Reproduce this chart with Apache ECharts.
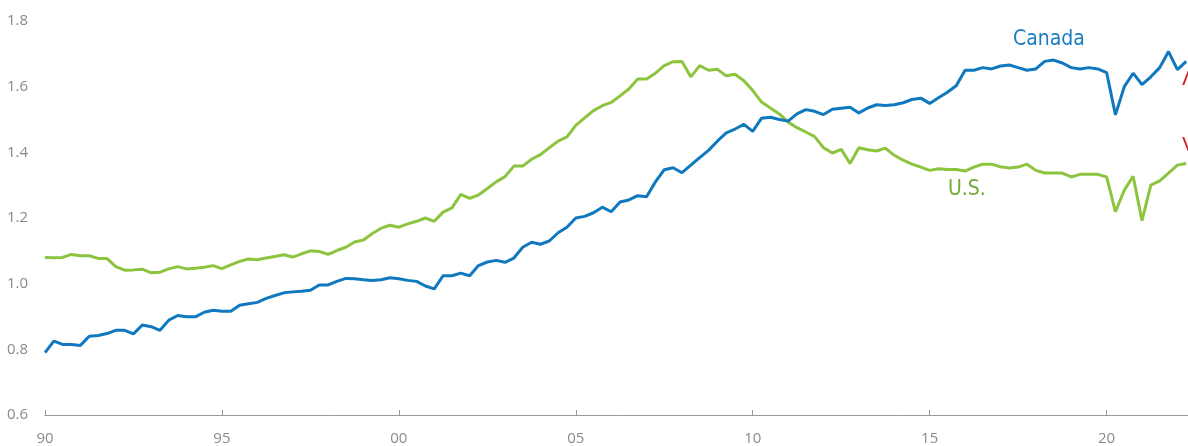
<!DOCTYPE html>
<html>
<head>
<meta charset="utf-8">
<script src="https://cdn.jsdelivr.net/npm/echarts@6/dist/echarts.min.js"></script>
<style>
  html, body { margin: 0; padding: 0; background: #fff; }
  #chart { width: 1188px; height: 446px; }
</style>
</head>
<body>
<div id="chart"></div>
<script>
// quarterly, first point = 1990 Q1
const startYear = 1990
const canada = [
  0.790, 0.825, 0.815, 0.815, 0.812, 0.840, 0.842, 0.848, 0.858, 0.858,
  0.847, 0.874, 0.869, 0.858, 0.889, 0.903, 0.899, 0.899, 0.913, 0.919,
  0.916, 0.916, 0.934, 0.939, 0.943, 0.955, 0.964, 0.972, 0.975, 0.977,
  0.980, 0.996, 0.996, 1.007, 1.016, 1.015, 1.012, 1.010, 1.012, 1.018,
  1.015, 1.010, 1.007, 0.993, 0.984, 1.024, 1.024, 1.032, 1.024, 1.055,
  1.066, 1.071, 1.065, 1.078, 1.111, 1.126, 1.120, 1.130, 1.155, 1.172,
  1.200, 1.205, 1.216, 1.233, 1.219, 1.249, 1.255, 1.268, 1.265, 1.310,
  1.347, 1.353, 1.338, 1.361, 1.384, 1.406, 1.434, 1.459, 1.471, 1.485,
  1.464, 1.504, 1.507, 1.500, 1.495, 1.517, 1.530, 1.525, 1.515, 1.531,
  1.534, 1.537, 1.520, 1.535, 1.545, 1.543, 1.545, 1.551, 1.561, 1.565,
  1.549, 1.566, 1.583, 1.603, 1.650, 1.650, 1.658, 1.654, 1.663, 1.666,
  1.658, 1.650, 1.654, 1.677, 1.681, 1.672, 1.658, 1.654, 1.658, 1.654,
  1.643, 1.514, 1.600, 1.641, 1.606, 1.630, 1.658, 1.707, 1.652, 1.677
]
const us = [
  1.080, 1.079, 1.080, 1.089, 1.085, 1.085, 1.077, 1.077, 1.052, 1.041,
  1.042, 1.044, 1.033, 1.035, 1.045, 1.052, 1.045, 1.047, 1.050, 1.055,
  1.046, 1.057, 1.068, 1.075, 1.073, 1.078, 1.083, 1.088, 1.081, 1.091,
  1.100, 1.098, 1.089, 1.101, 1.111, 1.127, 1.133, 1.153, 1.169, 1.178,
  1.172, 1.182, 1.190, 1.200, 1.190, 1.218, 1.231, 1.272, 1.260, 1.270,
  1.290, 1.310, 1.326, 1.358, 1.358, 1.379, 1.393, 1.414, 1.434, 1.447,
  1.482, 1.505, 1.527, 1.542, 1.552, 1.572, 1.593, 1.623, 1.623, 1.641,
  1.664, 1.676, 1.677, 1.630, 1.664, 1.650, 1.653, 1.633, 1.638, 1.618,
  1.588, 1.553, 1.535, 1.517, 1.492, 1.475, 1.462, 1.448, 1.414, 1.398,
  1.409, 1.366, 1.414, 1.408, 1.404, 1.413, 1.391, 1.376, 1.364, 1.355,
  1.345, 1.350, 1.348, 1.348, 1.343, 1.355, 1.364, 1.364, 1.356, 1.352,
  1.355, 1.364, 1.345, 1.337, 1.337, 1.337, 1.325, 1.333, 1.333, 1.333,
  1.325, 1.219, 1.285, 1.327, 1.192, 1.300, 1.313, 1.337, 1.361, 1.366
]
const yTicks = [0.6, 0.8, 1.0, 1.2, 1.4, 1.6, 1.8]

const toPairs = (arr) => arr.map((v, i) => [startYear + i / 4, v])

const chart = echarts.init(document.getElementById('chart'))
const axisFont = 'Open Sans'
const option = {
  animation: false,
  grid: { left: 45, right: 0, top: 21, bottom: 30 },
  xAxis: {
    type: 'value',
    min: 1990,
    max: 2022.3,
    interval: 5,
    axisLine: { lineStyle: { color: '#9a9a9a', width: 1 } },
    axisTick: { inside: true, length: 5, lineStyle: { color: '#9a9a9a' } },
    axisLabel: {
      color: '#8a8a8a',
      fontSize: 15,
      fontFamily: axisFont,
      margin: 16,
      showMaxLabel: false,
      formatter: (v) => String(v).slice(2),
    },
    splitLine: { show: false },
  },
  yAxis: {
    type: 'value',
    min: yTicks[0],
    max: yTicks[yTicks.length - 1],
    interval: 0.2,
    axisLine: { show: false },
    axisTick: { show: false },
    splitLine: { show: false },
    axisLabel: {
      color: '#8a8a8a',
      fontSize: 15,
      fontFamily: axisFont,
      margin: 17,
      formatter: (v) => v.toFixed(1),
    },
  },
  series: [
    {
      name: 'U.S.',
      type: 'line',
      data: toPairs(us),
      showSymbol: false,
      lineStyle: { color: '#8cc43f', width: 3 },
      z: 2,
    },
    {
      name: 'Canada',
      type: 'line',
      data: toPairs(canada),
      showSymbol: false,
      lineStyle: { color: '#0f78bf', width: 3 },
      z: 3,
    },
  ],
  graphic: [
    {
      type: 'text', left: 1013, top: 29,
      style: { text: 'Canada', fill: '#1a7cc1', fontSize: 21, fontFamily: 'Liberation Sans Narrow, DejaVu Sans Condensed, sans-serif' },
    },
    {
      type: 'text', left: 948, top: 179,
      style: { text: 'U.S.', fill: '#72a834', fontSize: 21, fontFamily: 'Liberation Sans Narrow, DejaVu Sans Condensed, sans-serif' },
    },
    // red marks cut off at the right edge
    {
      type: 'text', left: 1182, top: 70,
      style: { text: 'Λ', fill: '#d2232a', fontSize: 20, fontFamily: 'DejaVu Sans' },
    },
    {
      type: 'text', left: 1182, top: 136,
      style: { text: 'V', fill: '#d2232a', fontSize: 20, fontFamily: 'DejaVu Sans' },
    },
  ],
}
chart.setOption(option, true)
window.addEventListener('resize', () => {
  chart.resize()
})
</script>
</body>
</html>
